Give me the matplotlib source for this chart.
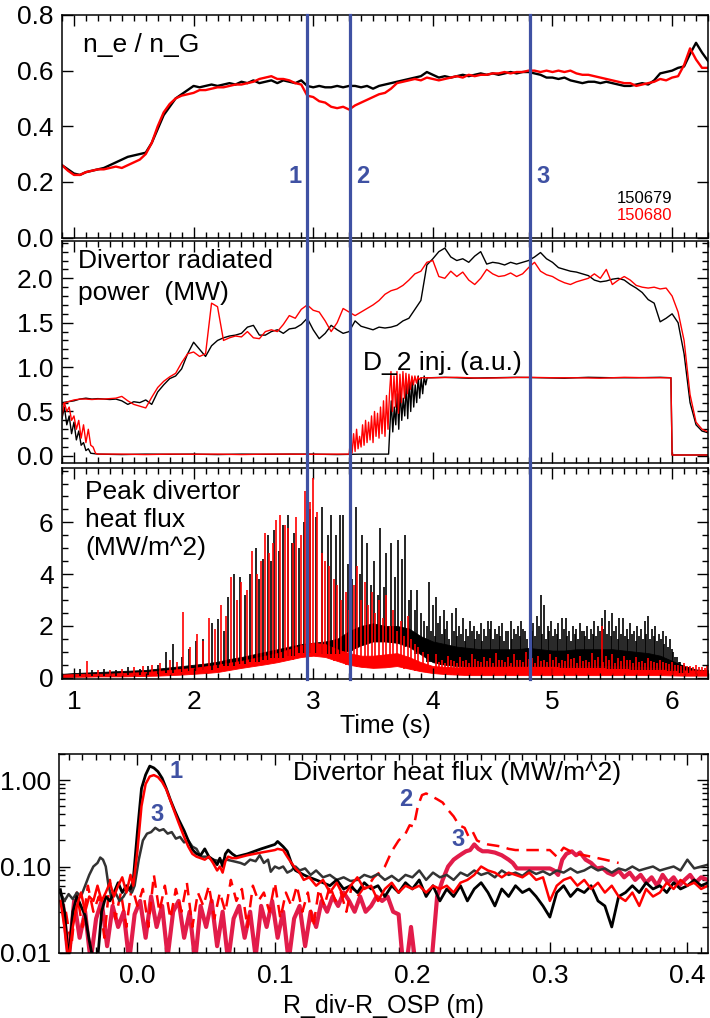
import numpy as np
import matplotlib
matplotlib.use("Agg")
import matplotlib.pyplot as plt
from matplotlib.ticker import MultipleLocator, FixedLocator, FixedFormatter, LogLocator, NullFormatter
from matplotlib.lines import Line2D
import matplotlib.transforms as mtransforms

plt.rcParams['font.family'] = ['Liberation Sans', 'DejaVu Sans']
plt.rcParams['font.size'] = 19

BLUE = '#3f51a3'
RED = '#ff0000'
CRIMSON = '#e21c4a'
GREY = '#333333'

# ---------------- data: time traces (grid 0.90 .. 6.30 s, step 0.05) ----------------
t_grid = np.round(np.arange(0.90, 6.301, 0.05), 3)

ne_679 = [0.26, 0.245, 0.23, 0.225, 0.235, 0.24, 0.245, 0.25, 0.26, 0.27,
          0.28, 0.29, 0.295, 0.30, 0.305, 0.34, 0.39, 0.44, 0.47, 0.50,
          0.515, 0.53, 0.545, 0.54, 0.545, 0.55, 0.545, 0.55, 0.555, 0.55,
          0.56, 0.555, 0.565, 0.555, 0.56, 0.565, 0.555, 0.565, 0.56, 0.555,
          0.565, 0.545, 0.54, 0.545, 0.54, 0.54, 0.545, 0.54, 0.545, 0.545,
          0.54, 0.545, 0.535, 0.545, 0.55, 0.555, 0.56, 0.565, 0.57, 0.575,
          0.58, 0.595, 0.585, 0.575, 0.58, 0.575, 0.58, 0.585, 0.58, 0.585,
          0.59, 0.585, 0.59, 0.585, 0.59, 0.595, 0.59, 0.595, 0.595, 0.59,
          0.585, 0.575, 0.575, 0.57, 0.575, 0.565, 0.56, 0.555, 0.56, 0.56,
          0.555, 0.56, 0.555, 0.55, 0.545, 0.545, 0.55, 0.555, 0.55, 0.565,
          0.59, 0.595, 0.60, 0.61, 0.615, 0.66, 0.70, 0.665, 0.635]
ne_680 = [0.26, 0.24, 0.225, 0.225, 0.235, 0.24, 0.245, 0.245, 0.25, 0.255,
          0.25, 0.26, 0.27, 0.28, 0.30, 0.34, 0.40, 0.45, 0.48, 0.50,
          0.51, 0.515, 0.52, 0.53, 0.53, 0.535, 0.54, 0.54, 0.545, 0.55,
          0.55, 0.555, 0.56, 0.57, 0.575, 0.58, 0.57, 0.57, 0.565, 0.555,
          0.55, 0.51, 0.505, 0.49, 0.485, 0.47, 0.465, 0.47, 0.46, 0.475,
          0.485, 0.495, 0.505, 0.515, 0.52, 0.535, 0.555, 0.56, 0.565, 0.57,
          0.565, 0.575, 0.57, 0.565, 0.57, 0.575, 0.58, 0.575, 0.585, 0.58,
          0.585, 0.585, 0.59, 0.59, 0.595, 0.59, 0.595, 0.595, 0.60, 0.60,
          0.595, 0.60, 0.595, 0.60, 0.595, 0.60, 0.59, 0.585, 0.585, 0.58,
          0.575, 0.57, 0.565, 0.56, 0.555, 0.555, 0.545, 0.55, 0.555, 0.56,
          0.57, 0.565, 0.575, 0.58, 0.62, 0.68, 0.64, 0.61, 0.61]

prad_679 = [0.60, 0.61, 0.62, 0.64, 0.65, 0.64, 0.645, 0.64, 0.635, 0.64,
            0.62, 0.58, 0.61, 0.60, 0.63, 0.58, 0.72, 0.80, 0.87, 0.90,
            0.98, 1.15, 1.28, 1.20, 1.12, 1.24, 1.30, 1.33, 1.35, 1.36,
            1.38, 1.45, 1.47, 1.36, 1.36, 1.40, 1.42, 1.38, 1.43, 1.44,
            1.48, 1.55, 1.42, 1.32, 1.38, 1.47, 1.42, 1.38, 1.40, 1.52,
            1.46, 1.44, 1.42, 1.45, 1.44, 1.45, 1.47, 1.52, 1.55, 1.65,
            1.75, 2.15, 2.22, 2.30, 2.34, 2.24, 2.20, 2.22, 2.18, 2.25,
            2.30, 2.16, 2.18, 2.17, 2.15, 2.18, 2.16, 2.18, 2.20, 2.24,
            2.29, 2.22, 2.18, 2.12, 2.10, 2.08, 2.07, 2.05, 2.03, 1.98,
            1.96, 1.97, 1.99, 2.00, 1.98, 1.93, 1.89, 1.84, 1.76, 1.72,
            1.51, 1.55, 1.60, 1.50, 1.15, 0.60, 0.35, 0.28, 0.26]
prad_680 = [0.58, 0.61, 0.63, 0.64, 0.64, 0.635, 0.64, 0.64, 0.645, 0.65,
            0.67, 0.62, 0.58, 0.56, 0.54, 0.66, 0.77, 0.84, 0.89, 0.93,
            1.05, 1.15, 1.17, 1.12, 1.15, 1.72, 1.68, 1.30, 1.33, 1.35,
            1.34, 1.40, 1.33, 1.32, 1.40, 1.42, 1.40, 1.48, 1.58, 1.55,
            1.65, 1.70, 1.64, 1.62, 1.52, 1.40, 1.50, 1.66, 1.62, 1.58,
            1.62, 1.66, 1.70, 1.75, 1.82, 1.86, 1.88, 1.92, 1.98, 2.05,
            2.08, 2.18, 2.20, 2.02, 2.00, 2.08, 2.02, 2.07, 1.98, 1.93,
            2.00, 2.10, 2.05, 2.02, 2.03, 2.06, 2.02, 2.05, 2.12, 2.18,
            2.08, 2.04, 2.02, 1.98, 1.95, 1.93, 1.96, 1.98, 2.00, 2.05,
            2.00, 2.10, 1.93, 1.98, 2.02, 1.98, 1.92, 1.90, 1.89, 1.90,
            1.88, 1.89, 1.80, 1.62, 1.30, 0.69, 0.38, 0.30, 0.27]

# D2 injection (a.u.)
d2_679_early_t = [0.90, 0.92, 0.94, 0.96, 0.98, 1.00, 1.02, 1.04, 1.06, 1.08, 1.10, 1.12, 1.14]
d2_679_early = [0.42, 0.55, 0.35, 0.45, 0.25, 0.38, 0.18, 0.28, 0.12, 0.15, 0.06, 0.08, 0.03]
d2_679_low_t = [1.2, 1.4, 1.6, 1.8, 2.0, 2.2, 2.4, 2.6, 2.8, 3.0, 3.2, 3.4, 3.63]
d2_679_low = [0.02, 0.015, 0.02, 0.018, 0.02, 0.015, 0.02, 0.018, 0.02, 0.02, 0.015, 0.02, 0.02]
d2_679_ramp_t0, d2_ramp_dt = 3.64, 0.0125
d2_679_ramp = [0.30, 0.62, 0.27, 0.55, 0.35, 0.70, 0.30, 0.75, 0.40, 0.65,
               0.45, 0.80, 0.42, 0.85, 0.50, 0.88, 0.55, 0.80, 0.60, 0.90,
               0.65, 0.88, 0.70, 0.90, 0.80, 0.88]
d2_high_t = [3.97, 4.1, 4.3, 4.5, 4.7, 4.9, 5.1, 5.3, 5.5, 5.7, 5.9, 5.99]
d2_679_high = [0.88, 0.885, 0.875, 0.88, 0.885, 0.88, 0.875, 0.885, 0.88, 0.88, 0.885, 0.88]
d2_off_t = [6.0, 6.3]
d2_off = [0.01, 0.01]

d2_680_early_t = [0.90, 0.92, 0.94, 0.96, 0.98, 1.00, 1.02, 1.04, 1.06, 1.08, 1.10, 1.12, 1.14, 1.16, 1.18]
d2_680_early = [0.45, 0.60, 0.50, 0.55, 0.40, 0.45, 0.30, 0.40, 0.20, 0.35, 0.15, 0.30, 0.12, 0.10, 0.03]
d2_680_low_t = [1.2, 1.4, 1.6, 1.8, 2.0, 2.2, 2.4, 2.6, 2.8, 3.0, 3.2, 3.29]
d2_680_low = [0.02, 0.02, 0.015, 0.02, 0.018, 0.02, 0.015, 0.02, 0.02, 0.018, 0.02, 0.02]
d2_680_ramp1_t0 = 3.30
d2_680_ramp1 = [0.02, 0.20, 0.03, 0.25, 0.05, 0.30, 0.08, 0.22, 0.10, 0.35,
                0.12, 0.40, 0.15, 0.38, 0.18, 0.45, 0.15, 0.50, 0.22, 0.48,
                0.20, 0.55, 0.25, 0.62, 0.22, 0.68, 0.30, 0.70]
d2_680_ramp2_t0 = 3.65
d2_680_ramp2 = [0.95, 0.50, 0.90, 0.55, 0.95, 0.48, 0.92, 0.60, 0.95, 0.65,
                0.93, 0.70, 0.92, 0.75, 0.90, 0.80, 0.90, 0.82, 0.89, 0.86]
d2_680_high_t = [3.90, 4.0, 4.2, 4.4, 4.6, 4.8, 5.0, 5.2, 5.4, 5.6, 5.8, 5.99]
d2_680_high = [0.88, 0.88, 0.885, 0.875, 0.88, 0.885, 0.88, 0.88, 0.875, 0.885, 0.88, 0.88]

# Peak divertor heat flux: noisy band (grid 0.9 .. 6.3, step 0.1) + ELM spikes
t_band = np.round(np.arange(0.9, 6.301, 0.1), 2)
q679_lo = [0.05, 0.05, 0.06, 0.07, 0.08, 0.09, 0.10, 0.12, 0.15, 0.18,
           0.22, 0.26, 0.30, 0.36, 0.45, 0.52, 0.60, 0.68, 0.78, 0.85,
           0.95, 0.95, 0.90, 0.90, 1.05, 1.25, 1.40, 1.40, 1.35, 1.20,
           0.90, 0.60, 0.50, 0.45, 0.42, 0.40, 0.40, 0.40, 0.40, 0.40,
           0.40, 0.40, 0.38, 0.38, 0.36, 0.36, 0.35, 0.33, 0.30, 0.30,
           0.28, 0.25, 0.20, 0.15, 0.12]
q679_hi = [0.15, 0.18, 0.20, 0.22, 0.24, 0.26, 0.28, 0.30, 0.35, 0.40,
           0.45, 0.50, 0.55, 0.62, 0.72, 0.80, 0.90, 1.00, 1.10, 1.20,
           1.30, 1.35, 1.40, 1.50, 1.80, 2.00, 2.10, 2.00, 2.00, 1.90,
           1.60, 1.40, 1.30, 1.20, 1.15, 1.10, 1.10, 1.10, 1.10, 1.15,
           1.10, 1.05, 1.05, 1.10, 1.10, 1.10, 1.10, 1.05, 1.00, 0.95,
           0.85, 0.65, 0.45, 0.32, 0.28]
q680_lo = [0.03, 0.04, 0.04, 0.05, 0.05, 0.05, 0.06, 0.07, 0.08, 0.10,
           0.12, 0.15, 0.18, 0.22, 0.30, 0.38, 0.45, 0.52, 0.60, 0.70,
           0.80, 0.85, 0.80, 0.65, 0.50, 0.42, 0.38, 0.40, 0.45, 0.35,
           0.25, 0.18, 0.14, 0.12, 0.10, 0.10, 0.10, 0.10, 0.10, 0.10,
           0.10, 0.10, 0.10, 0.10, 0.10, 0.10, 0.10, 0.10, 0.10, 0.10,
           0.10, 0.09, 0.08, 0.08, 0.08]
q680_hi = [0.12, 0.14, 0.15, 0.15, 0.16, 0.18, 0.20, 0.22, 0.26, 0.30,
           0.34, 0.38, 0.44, 0.50, 0.58, 0.65, 0.75, 0.85, 0.95, 1.10,
           1.25, 1.35, 1.30, 1.10, 0.95, 0.85, 0.85, 0.90, 0.95, 0.80,
           0.60, 0.45, 0.42, 0.40, 0.42, 0.44, 0.45, 0.44, 0.45, 0.45,
           0.45, 0.45, 0.44, 0.45, 0.45, 0.45, 0.44, 0.44, 0.42, 0.40,
           0.36, 0.32, 0.28, 0.28, 0.28]

elm679_t = [1.05, 1.15, 1.25, 1.35, 1.45, 1.55, 1.62, 1.70, 1.77, 1.83,
            1.90, 1.96, 2.02, 2.08, 2.15, 2.20, 2.25, 2.29, 2.34, 2.39,
            2.43, 2.47, 2.52, 2.55, 2.58, 2.62, 2.65, 2.67, 2.71, 2.75,
            2.79, 2.82, 2.84, 2.88, 2.92, 2.97, 3.02, 3.07, 3.12, 3.15,
            3.19, 3.22, 3.25, 3.29, 3.32, 3.36, 3.39, 3.41, 3.45, 3.48,
            3.51, 3.54, 3.56, 3.59, 3.61, 3.65, 3.68, 3.71, 3.74, 3.77,
            3.80, 3.82, 3.85, 3.87, 3.90, 3.93, 3.97, 4.00, 4.03, 4.06,
            4.09, 4.12, 4.16, 4.19, 4.22, 4.25, 4.28, 4.31, 4.34, 4.37,
            4.40, 4.43, 4.46, 4.49, 4.52, 4.55, 4.58, 4.61, 4.65, 4.68,
            4.71, 4.74, 4.77, 4.81, 4.84, 4.87, 4.90, 4.93, 4.96, 4.99,
            5.02, 5.05, 5.08, 5.11, 5.14, 5.17, 5.20, 5.23, 5.26, 5.29,
            5.32, 5.35, 5.38, 5.41, 5.44, 5.47, 5.50, 5.53, 5.56, 5.59,
            5.62, 5.65, 5.68, 5.71, 5.74, 5.77, 5.80, 5.83, 5.86, 5.89,
            5.92, 5.95, 5.98, 6.01, 6.04, 6.07, 6.10, 6.14, 6.20]
elm679_h = [0.35, 0.30, 0.35, 0.30, 0.40, 0.35, 0.45, 0.50, 1.00, 1.30,
            0.80, 1.10, 1.40, 1.50, 2.10, 2.25, 1.80, 3.10, 4.00, 3.90,
            3.20, 4.00, 5.00, 3.80, 4.60, 5.50, 4.50, 5.70, 4.90, 5.90,
            6.30, 5.20, 5.60, 5.00, 6.00, 6.50, 6.20, 6.60, 5.50, 6.30,
            5.50, 6.30, 6.30, 4.40, 3.80, 6.60, 4.00, 5.50, 5.20, 3.60,
            4.50, 3.20, 5.80, 3.50, 4.80, 5.20, 3.90, 5.30, 4.60, 5.50,
            3.00, 3.40, 2.60, 3.40, 2.50, 2.20, 3.70, 2.80, 3.10, 2.40,
            2.60, 2.20, 2.50, 2.70, 2.00, 2.30, 1.90, 2.20, 2.00, 1.80,
            2.10, 1.90, 2.20, 2.20, 1.90, 2.00, 2.10, 1.80, 2.20, 1.90,
            2.00, 2.20, 1.80, 3.00, 2.10, 2.40, 3.20, 2.80, 2.00, 2.20,
            1.90, 2.10, 2.30, 2.30, 1.80, 2.00, 1.90, 2.10, 1.80, 2.00,
            1.90, 2.20, 2.00, 2.30, 2.60, 2.20, 2.50, 2.00, 2.30, 2.30,
            1.90, 2.10, 1.80, 2.00, 1.90, 2.20, 2.40, 1.90, 2.00, 1.70,
            1.80, 1.60, 1.50, 1.00, 0.80, 0.60, 0.50, 0.40, 0.30]
# smaller in-between black peaks (late phase)
elm679b_t = [3.955, 3.985, 4.015, 4.045, 4.075, 4.105, 4.135, 4.175, 4.205, 4.235,
             4.265, 4.295, 4.325, 4.355, 4.385, 4.415, 4.445, 4.475, 4.505, 4.535,
             4.565, 4.595, 4.630, 4.665, 4.695, 4.725, 4.755, 4.790, 4.825, 4.855,
             4.885, 4.915, 4.945, 4.975, 5.005, 5.035, 5.065, 5.095, 5.125, 5.155,
             5.185, 5.215, 5.245, 5.275, 5.305, 5.335, 5.365, 5.395, 5.425, 5.455,
             5.485, 5.515, 5.545, 5.575, 5.605, 5.635, 5.665, 5.695, 5.725, 5.755,
             5.785, 5.815, 5.845, 5.875, 5.905, 5.935, 5.965, 5.995, 6.025, 6.055,
             6.085]
elm679b_h = [2.0, 1.8, 1.6, 2.1, 1.7, 1.9, 1.5, 1.8, 1.6, 1.7,
             1.4, 1.6, 1.8, 1.5, 1.7, 1.4, 1.6, 1.9, 1.5, 1.7,
             1.6, 1.4, 1.8, 1.5, 1.7, 1.6, 1.9, 1.5, 1.8, 1.6,
             2.0, 1.7, 1.5, 1.8, 1.6, 1.7, 1.5, 1.9, 1.6, 1.4,
             1.7, 1.5, 1.8, 1.6, 1.5, 1.7, 1.6, 1.8, 1.9, 1.7,
             1.6, 1.8, 1.5, 1.7, 1.6, 1.5, 1.7, 1.4, 1.6, 1.5,
             1.7, 1.5, 1.6, 1.4, 1.5, 1.3, 1.2, 1.1, 0.8, 0.6,
             0.5]

elm680_t = [1.11, 1.20, 1.30, 1.40, 1.50, 1.58, 1.65, 1.72, 1.80, 1.86,
            1.91, 1.97, 2.03, 2.08, 2.13, 2.18, 2.23, 2.27, 2.31, 2.36,
            2.40, 2.45, 2.49, 2.53, 2.56, 2.60, 2.63, 2.66, 2.69, 2.72,
            2.76, 2.79, 2.83, 2.86, 2.90, 2.93, 2.97, 3.00, 3.03, 3.07,
            3.10, 3.13, 3.17, 3.20, 3.23, 3.27, 3.30, 3.34, 3.37, 3.40,
            3.43, 3.46, 3.49, 3.52, 3.55, 3.58, 3.61, 3.64, 3.67, 3.70,
            3.73, 3.76, 3.79, 3.82, 3.85, 3.88, 3.92, 3.96, 4.03, 4.08,
            4.13, 4.18, 4.23, 4.28, 4.33, 4.38, 4.43, 4.48, 4.53, 4.58,
            4.63, 4.68, 4.73, 4.78, 4.83, 4.88, 4.93, 4.98, 5.03, 5.08,
            5.13, 5.18, 5.23, 5.28, 5.33, 5.38, 5.41, 5.45, 5.50, 5.55,
            5.60, 5.65, 5.70, 5.75, 5.80, 5.85, 5.90, 5.95, 6.00, 6.05,
            6.10, 6.15, 6.20, 6.25, 6.29]
elm680_h = [0.63, 0.30, 0.30, 0.35, 0.40, 0.45, 0.50, 0.55, 0.70, 0.60,
            2.55, 1.20, 1.70, 1.40, 2.30, 1.90, 2.80, 2.40, 3.90, 3.00,
            3.70, 3.40, 4.90, 4.00, 4.50, 5.60, 4.80, 5.20, 6.10, 6.30,
            5.90, 5.80, 5.20, 6.20, 5.50, 7.20, 6.80, 7.70, 6.40, 4.80,
            4.50, 4.30, 3.80, 3.60, 3.00, 3.30, 2.60, 3.60, 4.30, 3.00,
            3.70, 2.80, 3.30, 2.50, 3.00, 2.30, 3.20, 2.00, 2.60, 1.80,
            2.20, 1.60, 2.40, 1.50, 1.30, 1.20, 1.00, 0.90, 0.90, 0.70,
            0.85, 0.65, 0.80, 0.70, 0.90, 0.65, 0.80, 0.75, 0.95, 0.70,
            0.80, 0.90, 0.70, 1.00, 0.75, 0.85, 0.70, 0.90, 0.80, 0.70,
            0.90, 0.75, 0.85, 0.70, 0.95, 0.80, 2.00, 0.85, 0.90, 0.75,
            0.85, 0.70, 0.80, 0.65, 0.75, 0.60, 0.70, 0.55, 0.60, 0.50,
            0.55, 0.45, 0.50, 0.40, 0.45]
# smaller in-between red peaks (late phase)
elm680b_t = [4.055, 4.105, 4.155, 4.205, 4.255, 4.305, 4.355, 4.405, 4.455, 4.505,
             4.555, 4.605, 4.655, 4.705, 4.755, 4.805, 4.855, 4.905, 4.955, 5.005,
             5.055, 5.105, 5.155, 5.205, 5.255, 5.305, 5.355, 5.425, 5.475, 5.525,
             5.575, 5.625, 5.675, 5.725, 5.775, 5.825, 5.875, 5.925, 5.975, 6.025,
             6.075, 6.125, 6.175, 6.225, 6.275]
elm680b_h = [0.62, 0.55, 0.70, 0.58, 0.66, 0.55, 0.72, 0.60, 0.65, 0.58,
             0.70, 0.62, 0.56, 0.68, 0.60, 0.74, 0.58, 0.66, 0.62, 0.70,
             0.56, 0.64, 0.72, 0.58, 0.66, 0.60, 0.70, 0.62, 0.68, 0.58,
             0.64, 0.70, 0.56, 0.62, 0.58, 0.66, 0.55, 0.60, 0.52, 0.50,
             0.46, 0.44, 0.42, 0.40, 0.38]

event_t = [2.95, 3.31, 4.81]
event_lab = ['1', '2', '3']

# ---------------- data: divertor heat-flux profiles ----------------
b1_x = [-0.056, -0.053, -0.050, -0.047, -0.044, -0.041, -0.038, -0.035, -0.032, -0.029,
        -0.026, -0.023, -0.020, -0.017, -0.014, -0.011, -0.008, -0.005, -0.003, 0.000,
        0.003, 0.006, 0.009, 0.012, 0.015, 0.018, 0.021, 0.024, 0.027, 0.030,
        0.034, 0.037, 0.040, 0.043, 0.046, 0.049, 0.052, 0.055, 0.058, 0.060,
        0.062, 0.064, 0.066, 0.069, 0.072, 0.080, 0.090, 0.100, 0.102, 0.106,
        0.109, 0.112, 0.115, 0.118, 0.121, 0.125]
tail_x = np.round(np.arange(0.130, 0.4151, 0.005), 3)
b1_y = [0.054, 0.03, 0.008, 0.03, 0.045, 0.035, 0.027, 0.014, 0.008, 0.008,
        0.03, 0.045, 0.04, 0.05, 0.065, 0.05, 0.06, 0.055, 0.07, 0.25,
        0.8, 1.15, 1.45, 1.38, 1.25, 1.05, 0.8, 0.59, 0.45, 0.35,
        0.26, 0.2, 0.157, 0.14, 0.135, 0.16, 0.13, 0.12, 0.105, 0.125,
        0.1, 0.14, 0.155, 0.14, 0.13, 0.14, 0.16, 0.18, 0.195, 0.17,
        0.15, 0.11, 0.09, 0.085, 0.08, 0.075]
b1_tail = [0.07, 0.065, 0.06, 0.07, 0.055, 0.06, 0.05, 0.065, 0.055, 0.06,
           0.045, 0.06, 0.05, 0.065, 0.055, 0.07, 0.045, 0.06, 0.04, 0.055,
           0.045, 0.06, 0.04, 0.055, 0.065, 0.05, 0.035, 0.055, 0.045, 0.06,
           0.05, 0.055, 0.045, 0.035, 0.026, 0.05, 0.06, 0.045, 0.055, 0.05,
           0.06, 0.04, 0.035, 0.02, 0.045, 0.05, 0.06, 0.05, 0.065, 0.055,
           0.06, 0.05, 0.065, 0.055, 0.06, 0.07, 0.06, 0.065]
r1_y = [0.04, 0.02, 0.008, 0.02, 0.035, 0.05, 0.03, 0.045, 0.04, 0.06,
        0.04, 0.05, 0.065, 0.045, 0.06, 0.075, 0.05, 0.08, 0.06, 0.15,
        0.5, 0.9, 1.1, 1.14, 1.08, 0.95, 0.78, 0.58, 0.43, 0.32,
        0.22, 0.17, 0.14, 0.13, 0.125, 0.12, 0.13, 0.11, 0.09, 0.1,
        0.085, 0.115, 0.13, 0.125, 0.125, 0.135, 0.145, 0.155, 0.16, 0.155,
        0.13, 0.11, 0.095, 0.085, 0.07, 0.075]
r1_tail = [0.06, 0.07, 0.05, 0.065, 0.045, 0.06, 0.075, 0.055, 0.06, 0.04,
           0.055, 0.065, 0.05, 0.06, 0.055, 0.06, 0.05, 0.06, 0.055, 0.06,
           0.05, 0.065, 0.07, 0.08, 0.1, 0.09, 0.085, 0.075, 0.085, 0.08,
           0.075, 0.085, 0.07, 0.075, 0.04, 0.06, 0.07, 0.075, 0.06, 0.07,
           0.055, 0.065, 0.05, 0.06, 0.045, 0.04, 0.05, 0.035, 0.055, 0.045,
           0.05, 0.065, 0.055, 0.07, 0.06, 0.065, 0.055, 0.06]
g3_x = [-0.056, -0.053, -0.050, -0.047, -0.044, -0.041, -0.038, -0.035, -0.032, -0.029,
        -0.027, -0.025, -0.023, -0.021, -0.019, -0.016, -0.013, -0.010, -0.007, -0.004,
        -0.002, 0.001, 0.004, 0.007, 0.010, 0.013, 0.016, 0.019, 0.022, 0.025,
        0.028, 0.031, 0.034, 0.037, 0.040, 0.043, 0.046, 0.050, 0.055, 0.060,
        0.065, 0.070, 0.075, 0.078, 0.082, 0.086, 0.089, 0.092, 0.095, 0.097,
        0.100, 0.103, 0.106, 0.109, 0.112, 0.115, 0.118, 0.122, 0.126]
g3_y = [0.05, 0.04, 0.048, 0.042, 0.05, 0.045, 0.06, 0.08, 0.10, 0.11,
        0.127, 0.12, 0.1, 0.06, 0.045, 0.05, 0.04, 0.045, 0.055, 0.05,
        0.06, 0.12, 0.2, 0.24, 0.25, 0.28, 0.26, 0.27, 0.24, 0.25,
        0.21, 0.22, 0.19, 0.2, 0.17, 0.16, 0.13, 0.13, 0.12, 0.115,
        0.12, 0.115, 0.11, 0.105, 0.12, 0.115, 0.135, 0.11, 0.12, 0.087,
        0.1, 0.095, 0.1, 0.085, 0.09, 0.1, 0.09, 0.095, 0.08]
g3_tail = [0.09, 0.075, 0.08, 0.07, 0.075, 0.068, 0.07, 0.08, 0.075, 0.082,
           0.07, 0.078, 0.068, 0.08, 0.075, 0.09, 0.07, 0.085, 0.075, 0.08,
           0.07, 0.085, 0.078, 0.09, 0.08, 0.085, 0.075, 0.09, 0.08, 0.085,
           0.078, 0.09, 0.082, 0.088, 0.08, 0.09, 0.085, 0.095, 0.085, 0.09,
           0.1, 0.09, 0.095, 0.085, 0.095, 0.09, 0.1, 0.09, 0.095, 0.1,
           0.09, 0.095, 0.1, 0.09, 0.12, 0.095, 0.1, 0.105]
d2_noise_x = np.round(np.arange(-0.052, 0.1681, 0.004), 3)
d2_noise_y = [0.03, 0.012, 0.05, 0.02, 0.06, 0.03, 0.045, 0.015, 0.07, 0.025,
              0.05, 0.02, 0.06, 0.035, 0.055, 0.02, 0.08, 0.03, 0.06, 0.025,
              0.055, 0.03, 0.065, 0.02, 0.05, 0.035, 0.06, 0.025, 0.05, 0.03,
              0.07, 0.04, 0.055, 0.02, 0.06, 0.04, 0.05, 0.03, 0.065, 0.025,
              0.05, 0.035, 0.06, 0.03, 0.05, 0.02, 0.055, 0.035, 0.06, 0.04,
              0.05, 0.03, 0.06, 0.045, 0.055, 0.06]
d2_peak_x = [0.172, 0.176, 0.180, 0.185, 0.190, 0.195, 0.198, 0.201, 0.204, 0.207,
             0.210, 0.214, 0.218, 0.222, 0.226, 0.230, 0.234, 0.238, 0.241, 0.244,
             0.247, 0.250, 0.255, 0.260, 0.265, 0.270, 0.275, 0.300, 0.305, 0.310,
             0.315, 0.320, 0.330, 0.340, 0.350]
d2_peak_y = [0.075, 0.085, 0.1, 0.15, 0.2, 0.24, 0.3, 0.29, 0.5, 0.67,
             0.7, 0.65, 0.6, 0.55, 0.45, 0.38, 0.3, 0.28, 0.22, 0.25,
             0.2, 0.19, 0.18, 0.175, 0.17, 0.16, 0.155, 0.155, 0.13, 0.165,
             0.15, 0.14, 0.13, 0.12, 0.11]
c3_noise_x = np.round(np.arange(-0.054, 0.1901, 0.004), 3)
c3_noise_y = [0.035, 0.008, 0.04, 0.015, 0.03, 0.008, 0.025, 0.04, 0.012, 0.035,
              0.02, 0.03, 0.008, 0.028, 0.04, 0.015, 0.045, 0.02, 0.035, 0.009,
              0.03, 0.04, 0.015, 0.03, 0.008, 0.035, 0.02, 0.04, 0.012, 0.03,
              0.008, 0.025, 0.035, 0.015, 0.03, 0.009, 0.035, 0.02, 0.04, 0.015,
              0.03, 0.008, 0.025, 0.035, 0.012, 0.03, 0.02, 0.04, 0.03, 0.045,
              0.035, 0.05, 0.04, 0.03, 0.045, 0.03, 0.035, 0.045, 0.04, 0.045,
              0.03, 0.028]
c3_peak_x = [0.193, 0.196, 0.199, 0.202, 0.206, 0.210, 0.214, 0.218, 0.222, 0.226,
             0.230, 0.233, 0.236, 0.239, 0.242, 0.245, 0.248, 0.251, 0.255, 0.260,
             0.265, 0.270, 0.273, 0.276, 0.300, 0.303, 0.306, 0.309, 0.312, 0.316,
             0.319, 0.322, 0.326, 0.330, 0.334, 0.338, 0.342, 0.346, 0.350, 0.354,
             0.358, 0.362, 0.366, 0.370, 0.374, 0.378, 0.382, 0.386, 0.390, 0.394,
             0.398, 0.402, 0.406, 0.410, 0.415]
c3_peak_y = [0.008, 0.008, 0.02, 0.008, 0.008, 0.008, 0.008, 0.045, 0.07, 0.1,
             0.12, 0.13, 0.14, 0.15, 0.155, 0.18, 0.16, 0.15, 0.15, 0.145,
             0.135, 0.12, 0.11, 0.095, 0.095, 0.09, 0.08, 0.12, 0.14, 0.15,
             0.135, 0.145, 0.12, 0.11, 0.095, 0.097, 0.085, 0.08, 0.09, 0.075,
             0.085, 0.07, 0.08, 0.065, 0.075, 0.06, 0.08, 0.065, 0.075, 0.06,
             0.07, 0.08, 0.065, 0.075, 0.07]

# ---------------- figure ----------------
W, H = 710, 1018
fig = plt.figure(figsize=(W / 100, H / 100), dpi=100)


def rect(l, t, r, b):
    return [l / W, 1 - b / H, (r - l) / W, (b - t) / H]


ax1 = fig.add_axes(rect(62, 15, 708, 237.5))
ax2 = fig.add_axes(rect(62, 241, 708, 463))
ax3 = fig.add_axes(rect(62, 468, 708, 679))
ax4 = fig.add_axes(rect(59, 754, 708, 953))


def style(ax):
    for s in ax.spines.values():
        s.set_linewidth(1.1)
    ax.tick_params(which='both', direction='in', top=True, right=True, width=1.0, labelsize=19)
    ax.tick_params(which='major', length=8)
    ax.tick_params(which='minor', length=4)
    ax.tick_params(axis='y', pad=6)
    ax.tick_params(axis='x', pad=8)


for ax in (ax1, ax2, ax3):
    style(ax)
    ax.set_xlim(0.9, 6.3)
    ax.xaxis.set_major_locator(MultipleLocator(1))
    ax.xaxis.set_minor_locator(MultipleLocator(0.1))
ax1.tick_params(labelbottom=False)
ax2.tick_params(labelbottom=False)

# panel 1
ax1.plot(t_grid, ne_679, color='black', lw=1.7)
ax1.plot(t_grid, ne_680, color=RED, lw=1.7)
ax1.set_ylim(0, 0.8)
ax1.yaxis.set_major_locator(FixedLocator([0.0, 0.2, 0.4, 0.6, 0.8]))
ax1.yaxis.set_major_formatter(FixedFormatter(['0.0', '0.2', '0.4', '0.6', '0.8']))
ax1.text(0.0325, 0.834, 'n_e / n_G', transform=ax1.transAxes, fontsize=19, va='baseline')
ax1.text(0.859, 0.153, '150679', transform=ax1.transAxes, fontsize=12, va='baseline', color='black')
ax1.text(0.859, 0.079, '150680', transform=ax1.transAxes, fontsize=12, va='baseline', color=RED)
lab_off = [-0.045, 0.045, 0.055]
for tv, lb, off in zip(event_t, event_lab, lab_off):
    ax1.text(tv + off, 0.195, lb, color=BLUE, fontsize=17, fontweight='bold',
             ha='right' if off < 0 else 'left', va='baseline')

# panel 2
ax2.plot(t_grid, prad_679, color='black', lw=1.0)
ax2.plot(t_grid, prad_680, color=RED, lw=1.0)
d2_679_t = np.concatenate([d2_679_early_t, d2_679_low_t,
                           d2_679_ramp_t0 + d2_ramp_dt * np.arange(len(d2_679_ramp)),
                           d2_high_t, d2_off_t])
d2_679_v = np.concatenate([d2_679_early, d2_679_low, d2_679_ramp, d2_679_high, d2_off])
d2_680_t = np.concatenate([d2_680_early_t, d2_680_low_t,
                           d2_680_ramp1_t0 + d2_ramp_dt * np.arange(len(d2_680_ramp1)),
                           d2_680_ramp2_t0 + d2_ramp_dt * np.arange(len(d2_680_ramp2)),
                           d2_680_high_t, d2_off_t])
d2_680_v = np.concatenate([d2_680_early, d2_680_low, d2_680_ramp1, d2_680_ramp2, d2_680_high, d2_off])
ax2.plot(d2_679_t, d2_679_v, color='black', lw=1.0)
ax2.plot(d2_680_t, d2_680_v, color=RED, lw=1.0)
ax2.set_ylim(-0.08, 2.42)
ax2.yaxis.set_major_locator(FixedLocator([0.0, 0.5, 1.0, 1.5, 2.0]))
ax2.yaxis.set_major_formatter(FixedFormatter(['0.0', '0.5', '1.0', '1.5', '2.0']))
ax2.yaxis.set_minor_locator(MultipleLocator(0.1))
ax2.text(0.025, 0.877, 'Divertor radiated', transform=ax2.transAxes, fontsize=19, va='baseline')
ax2.text(0.025, 0.734, 'power  (MW)', transform=ax2.transAxes, fontsize=19, va='baseline')
ax2.text(0.466, 0.419, 'D_2 inj. (a.u.)', transform=ax2.transAxes, fontsize=19, va='baseline')


# panel 3
def band_index(ts):
    return np.clip(np.round((np.asarray(ts) - t_band[0]) / 0.1).astype(int), 0, len(t_band) - 1)


ax3.fill_between(t_band, q679_lo, q679_hi, color='black', lw=0.6)
ax3.vlines(elm679b_t, np.asarray(q679_lo)[band_index(elm679b_t)], elm679b_h, color='black', lw=1.2)
ax3.vlines(elm679_t, np.asarray(q679_lo)[band_index(elm679_t)], elm679_h, color='black', lw=1.2)
ax3.fill_between(t_band, q680_lo, q680_hi, color=RED, lw=0.6)
ax3.vlines(elm680b_t, np.asarray(q680_lo)[band_index(elm680b_t)], elm680b_h, color=RED, lw=1.2)
ax3.vlines(elm680_t, np.asarray(q680_lo)[band_index(elm680_t)], elm680_h, color=RED, lw=1.2)
ax3.set_ylim(-0.05, 8.1)
ax3.yaxis.set_major_locator(FixedLocator([0, 2, 4, 6]))
ax3.yaxis.set_major_formatter(FixedFormatter(['0', '2', '4', '6']))
ax3.yaxis.set_minor_locator(MultipleLocator(0.5))
ax3.set_xticks([1, 2, 3, 4, 5, 6])
ax3.set_xticklabels(['1', '2', '3', '4', '5', '6'])
ax3.set_xlabel('Time (s)', fontsize=18, labelpad=0)
ax3.text(0.0356, 0.852, 'Peak divertor', transform=ax3.transAxes, fontsize=19, va='baseline')
ax3.text(0.0356, 0.722, 'heat flux', transform=ax3.transAxes, fontsize=19, va='baseline')
ax3.text(0.0356, 0.588, '(MW/m^2)', transform=ax3.transAxes, fontsize=19, va='baseline')

# vertical event lines spanning the three time panels
trans = mtransforms.blended_transform_factory(ax1.transData, fig.transFigure)
y_bot = ax3.get_position().y0
y_top = ax1.get_position().y1
for tv in event_t:
    fig.add_artist(Line2D([tv, tv], [y_bot, y_top], transform=trans, color=BLUE, lw=2.3, zorder=5))

# panel 4: profiles
style(ax4)
ax4.set_yscale('log')
ax4.plot(c3_noise_x.tolist() + c3_peak_x, c3_noise_y + c3_peak_y, color=CRIMSON, lw=3.0)
ax4.plot(d2_noise_x.tolist() + d2_peak_x, d2_noise_y + d2_peak_y, color=RED, lw=1.8,
         dashes=(5, 3))
ax4.plot(g3_x + tail_x.tolist(), g3_y + g3_tail, color=GREY, lw=1.8)
ax4.plot(b1_x + tail_x.tolist(), b1_y + b1_tail, color='black', lw=2.0)
ax4.plot(b1_x + tail_x.tolist(), r1_y + r1_tail, color=RED, lw=1.8)
ax4.set_xlim(-0.057, 0.415)
ax4.set_ylim(0.01, 2.0)
ax4.yaxis.set_major_locator(FixedLocator([0.01, 0.1, 1.0]))
ax4.yaxis.set_major_formatter(FixedFormatter(['0.01', '0.10', '1.00']))
ax4.yaxis.set_minor_locator(LogLocator(base=10, subs=np.arange(2, 10)))
ax4.yaxis.set_minor_formatter(NullFormatter())
ax4.xaxis.set_major_locator(FixedLocator([0.0, 0.1, 0.2, 0.3, 0.4]))
ax4.xaxis.set_major_formatter(FixedFormatter(['0.0', '0.1', '0.2', '0.3', '0.4']))
ax4.xaxis.set_minor_locator(MultipleLocator(0.01))
ax4.set_xlabel('R_div-R_OSP (m)', fontsize=18, labelpad=4)
ax4.text(0.36, 0.869, 'Divertor heat flux (MW/m^2)', transform=ax4.transAxes, fontsize=19,
         va='baseline')
ax4.text(0.028, 1.25, '1', color=BLUE, fontsize=17, fontweight='bold', ha='center', va='center')
ax4.text(0.0145, 0.40, '3', color=BLUE, fontsize=17, fontweight='bold', ha='center', va='center')
ax4.text(0.195, 0.60, '2', color=BLUE, fontsize=17, fontweight='bold', ha='center', va='center')
ax4.text(0.2335, 0.205, '3', color=BLUE, fontsize=17, fontweight='bold', ha='center', va='center')

fig.savefig('out.png', dpi=100)
